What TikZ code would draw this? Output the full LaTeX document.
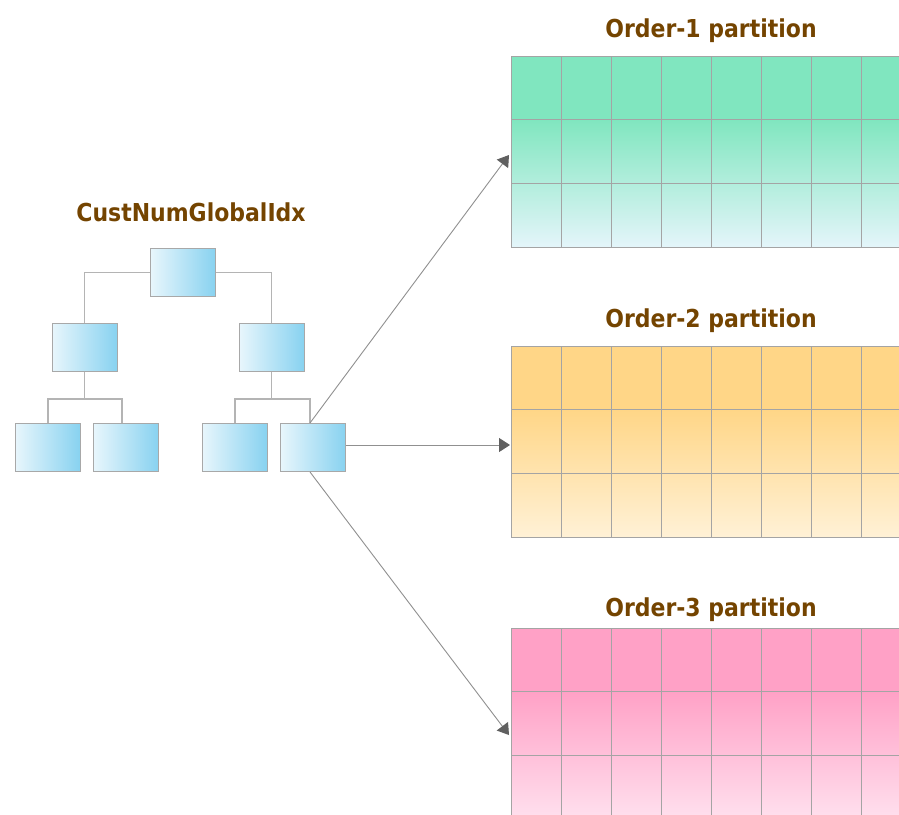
\documentclass[tikz,border=0pt]{standalone}
\usepackage{fontspec}
\usepackage{graphicx}
\setmainfont{DejaVu Sans}
\usetikzlibrary{arrows.meta}
\definecolor{ttl}{HTML}{744400}
\definecolor{boxL}{HTML}{E8F6FC}
\definecolor{boxR}{HTML}{88D2F0}
\definecolor{boxline}{HTML}{A8A8A8}
\definecolor{treeline}{HTML}{B4B4B4}
\definecolor{arrline}{HTML}{909090}
\definecolor{arrhead}{HTML}{606060}
\definecolor{gridc}{HTML}{A4A4A4}
\definecolor{grnA}{HTML}{80E6BF}
\definecolor{grnB}{HTML}{E4F5FA}
\definecolor{orgA}{HTML}{FFD687}
\definecolor{orgB}{HTML}{FFF1D6}
\definecolor{pnkA}{HTML}{FFA1C6}
\definecolor{pnkB}{HTML}{FFE0EE}
\tikzset{
  tbox/.style={draw=boxline, line width=1pt, left color=boxL, right color=boxR,
    minimum width=65pt, minimum height=48pt, inner sep=0pt},
  treeln/.style={draw=treeline, line width=1.2pt},
  arr/.style={draw=arrline, line width=0.9pt, -{Triangle[length=11pt,width=14pt,color=arrhead]}},
  ttlstyle/.style={font=\fontsize{24.7}{28}\selectfont\bfseries, text=ttl, anchor=base, inner sep=0pt},
  gridln/.style={draw=gridc, line width=1pt}
}
\begin{document}
\begin{tikzpicture}[x=1pt,y=-1pt]
\useasboundingbox (0,0) rectangle (899,814);
\clip (0,0) rectangle (899,814);
\fill[white] (0,0) rectangle (899,814);

% partitions
\foreach \ty/\ca/\cb in {56/grnA/grnB, 346/orgA/orgB, 628/pnkA/pnkB} {
  \fill[\ca] (511,\ty) rectangle (899,\ty+64);
  \shade[top color=\ca, bottom color=\cb] (511,\ty+63.5) rectangle (899,\ty+191);
  \foreach \k in {0,...,7} \draw[gridln] (511+50*\k,\ty) -- (511+50*\k,\ty+191);
  \foreach \r in {0,1,2,3} \draw[gridln] (511,\ty+63.67*\r) -- (899,\ty+63.67*\r);
}

% titles
\node[ttlstyle] (t1) at (711,37) {\scalebox{0.89}[1]{Order-1 partition}};
\node[ttlstyle] (t2) at (711,327) {\scalebox{0.89}[1]{Order-2 partition}};
\node[ttlstyle] (t3) at (711,616) {\scalebox{0.89}[1]{Order-3 partition}};
\node[ttlstyle] (tt) at (191,221) {\scalebox{0.89}[1]{CustNumGlobalIdx}};

% tree
\node[tbox] (top) at (183,272.5) {};
\node[tbox] (la) at (84.5,347) {};
\node[tbox] (lb) at (271.5,347) {};
\node[tbox] (c1) at (47.5,447.5) {};
\node[tbox] (c2) at (126,447.5) {};
\node[tbox] (c3) at (234.5,447.5) {};
\node[tbox] (c4) at (313,447.5) {};

\coordinate (ja) at (84.5,399);
\coordinate (jb) at (271.5,399);
\draw[treeln] (top.west) -| (la.north);
\draw[treeln] (top.east) -| (lb.north);
\draw[treeln] (la.south) -- (ja);
\draw[treeln] (lb.south) -- (jb);
\draw[treeln] ([xshift=0.5pt]c1.north) |- (ja);
\draw[treeln] ([xshift=-4pt]c2.north) |- (ja);
\draw[treeln] ([xshift=0.5pt]c3.north) |- (jb);
\draw[treeln] ([xshift=-3pt]c4.north) |- (jb);

% arrows
\coordinate (e1) at (509,155);
\coordinate (e2) at (510,445);
\coordinate (e3) at (509,735);
\draw[arr] ([xshift=-3pt]c4.north) -- (e1);
\draw[arr] (c4.east |- e2) -- (e2);
\draw[arr] ([xshift=-3pt]c4.south) -- (e3);
\end{tikzpicture}
\end{document}
